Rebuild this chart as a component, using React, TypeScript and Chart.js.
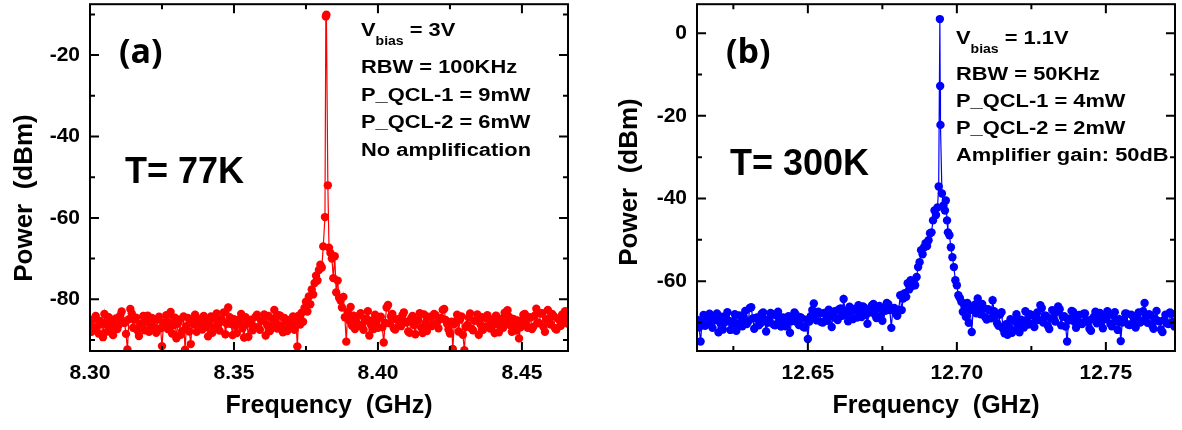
import { useEffect, useRef } from 'react';
import { Chart, registerables } from 'chart.js';

Chart.register(...registerables);

const FONT = "'Liberation Sans', Arial, Helvetica, sans-serif";

// ---------- Panel (a): T = 77K ----------
const freqA = [
  8.3000, 8.3005, 8.3010, 8.3015, 8.3020, 8.3025, 8.3030, 8.3035, 8.3040, 8.3045,
  8.3050, 8.3055, 8.3060, 8.3065, 8.3070, 8.3075, 8.3080, 8.3085, 8.3090, 8.3095,
  8.3100, 8.3105, 8.3110, 8.3115, 8.3120, 8.3125, 8.3130, 8.3135, 8.3140, 8.3145,
  8.3150, 8.3155, 8.3160, 8.3165, 8.3170, 8.3175, 8.3180, 8.3185, 8.3190, 8.3195,
  8.3200, 8.3205, 8.3210, 8.3215, 8.3220, 8.3225, 8.3230, 8.3235, 8.3240, 8.3245,
  8.3250, 8.3255, 8.3260, 8.3265, 8.3270, 8.3275, 8.3280, 8.3285, 8.3290, 8.3295,
  8.3300, 8.3305, 8.3310, 8.3315, 8.3320, 8.3325, 8.3330, 8.3335, 8.3340, 8.3345,
  8.3350, 8.3355, 8.3360, 8.3365, 8.3370, 8.3375, 8.3380, 8.3385, 8.3390, 8.3395,
  8.3400, 8.3405, 8.3410, 8.3415, 8.3420, 8.3425, 8.3430, 8.3435, 8.3440, 8.3445,
  8.3450, 8.3455, 8.3460, 8.3465, 8.3470, 8.3475, 8.3480, 8.3485, 8.3490, 8.3495,
  8.3500, 8.3505, 8.3510, 8.3515, 8.3520, 8.3525, 8.3530, 8.3535, 8.3540, 8.3545,
  8.3550, 8.3555, 8.3560, 8.3565, 8.3570, 8.3575, 8.3580, 8.3585, 8.3590, 8.3595,
  8.3600, 8.3605, 8.3610, 8.3615, 8.3620, 8.3625, 8.3630, 8.3635, 8.3640, 8.3645,
  8.3650, 8.3655, 8.3660, 8.3665, 8.3670, 8.3675, 8.3680, 8.3685, 8.3690,
  8.3695, 8.3700, 8.3705, 8.3710, 8.3715, 8.3720, 8.3725, 8.3730, 8.3735, 8.3740,
  8.3745, 8.3750, 8.3755, 8.3760, 8.3765, 8.3770, 8.3775, 8.3780, 8.3785, 8.3790,
  8.3795, 8.3800, 8.3805, 8.3810, 8.3816, 8.3819, 8.3821, 8.3826, 8.3830, 8.3835,
  8.3840, 8.3845, 8.3850, 8.3855, 8.3860, 8.3865, 8.3870, 8.3875, 8.3880, 8.3885,
  8.3890, 8.3895, 8.3900, 8.3905, 8.3910, 8.3915, 8.3920, 8.3925,
  8.3930, 8.3935, 8.3940, 8.3945, 8.3950, 8.3955, 8.3960, 8.3965, 8.3970, 8.3975,
  8.3980, 8.3985, 8.3990, 8.3995, 8.4000, 8.4005, 8.4010, 8.4015, 8.4020, 8.4025,
  8.4030, 8.4035, 8.4040, 8.4045, 8.4050, 8.4055, 8.4060, 8.4065, 8.4070, 8.4075,
  8.4080, 8.4085, 8.4090, 8.4095, 8.4100, 8.4105, 8.4110, 8.4115, 8.4120, 8.4125,
  8.4130, 8.4135, 8.4140, 8.4145, 8.4150, 8.4155, 8.4160, 8.4165, 8.4170, 8.4175,
  8.4180, 8.4185, 8.4190, 8.4195, 8.4200, 8.4205, 8.4210, 8.4215, 8.4220, 8.4225,
  8.4230, 8.4235, 8.4240, 8.4245, 8.4250, 8.4255, 8.4260, 8.4265, 8.4270, 8.4275,
  8.4280, 8.4285, 8.4290, 8.4295, 8.4300, 8.4305, 8.4310, 8.4315, 8.4320, 8.4325,
  8.4330, 8.4335, 8.4340, 8.4345, 8.4350, 8.4355, 8.4360, 8.4365, 8.4370, 8.4375,
  8.4380, 8.4385, 8.4390, 8.4395, 8.4400, 8.4405, 8.4410, 8.4415, 8.4420, 8.4425,
  8.4430, 8.4435, 8.4440, 8.4445, 8.4450, 8.4455, 8.4460, 8.4465, 8.4470, 8.4475,
  8.4480, 8.4485, 8.4490, 8.4495, 8.4500, 8.4505, 8.4510, 8.4515, 8.4520, 8.4525,
  8.4530, 8.4535, 8.4540, 8.4545, 8.4550, 8.4555, 8.4560, 8.4565, 8.4570, 8.4575,
  8.4580, 8.4585, 8.4590, 8.4595, 8.4600, 8.4605, 8.4610, 8.4615, 8.4620, 8.4625,
  8.4630, 8.4635, 8.4640, 8.4645, 8.4650, 8.4655, 8.4660,
];
const powerA = [
  -85.5, -88.0, -87.2, -84.8, -84.1, -86.7, -88.4, -85.3, -86.0, -89.3,
  -83.6, -86.1, -87.9, -84.4, -85.2, -87.0, -88.8, -85.6, -84.7, -87.3,
  -86.3, -84.0, -83.0, -85.4, -85.8, -88.5, -92.3, -84.9, -82.4, -83.5,
  -87.0, -85.0, -84.5, -87.7, -89.0, -86.2, -85.9, -84.1, -87.6, -85.5,
  -84.0, -88.0, -86.8, -84.6, -85.1, -86.9, -88.2, -85.0, -84.3, -87.1,
  -91.5, -86.4, -85.6, -83.9, -87.3, -85.8, -83.1, -88.4, -86.4, -84.5,
  -89.6, -86.0, -85.0, -88.7, -87.8, -84.2, -92.4, -86.6, -84.6, -87.9,
  -91.0, -85.2, -86.2, -83.8, -88.0, -85.9, -84.8, -87.0, -87.4, -84.1,
  -85.3, -86.8, -89.1, -85.7, -84.2, -88.2, -86.9, -84.7, -83.5, -86.3,
  -87.7, -84.9, -85.4, -83.2, -88.6, -86.0, -82.0, -84.4, -86.1, -88.8,
  -84.9, -86.5, -88.3, -85.1, -85.7, -83.6, -87.1, -89.4, -84.4, -86.0,
  -89.2, -85.5, -85.0, -87.6, -86.7, -84.3, -83.8, -86.9, -87.5, -85.2,
  -85.2, -83.7, -88.9, -86.3, -84.1, -87.8, -86.6, -84.8, -82.6, -85.4,
  -87.2, -83.9, -84.0, -86.5, -88.1, -84.6, -85.3, -87.8, -87.0,
  -85.0, -86.4, -84.2, -87.5, -85.1, -91.6, -84.0, -86.2, -83.3, -85.5,
  -82.1, -80.6, -83.0, -79.3, -81.2, -77.6, -78.8, -76.0, -74.2, -75.4,
  -72.8, -71.5, -72.2, -67.0, -59.8, -10.5, -10.1, -52.0, -67.3, -68.6,
  -70.0, -74.8, -69.4, -78.3, -75.4, -79.6, -80.3, -82.0, -79.4, -84.4,
  -90.4, -83.1, -85.2, -81.9, -86.5, -84.0, -87.3, -85.6,
  -86.1, -84.0, -83.4, -86.8, -87.5, -85.3, -84.7, -82.9, -88.9, -86.2,
  -85.2, -87.3, -83.8, -85.6, -87.0, -84.5, -84.3, -86.9, -90.6, -85.8,
  -82.0, -81.4, -85.9, -84.2, -83.6, -87.1, -87.4, -85.0, -84.9, -86.4,
  -86.6, -83.9, -83.2, -85.5, -85.7, -87.9, -88.2, -84.7, -84.1, -86.3,
  -88.6, -85.2, -85.0, -83.4, -86.9, -88.3, -83.7, -85.9, -87.8, -84.3,
  -84.5, -86.6, -86.2, -83.6, -83.9, -85.7, -87.1, -84.9, -84.6, -82.6,
  -82.4, -85.1, -86.0, -87.4, -88.4, -85.5, -92.2, -86.1, -85.4, -83.8,
  -87.9, -85.0, -84.2, -88.7, -92.5, -86.8, -86.3, -84.5, -83.5, -87.2,
  -87.6, -85.3, -85.1, -83.7, -88.7, -86.0, -84.4, -87.5, -86.8, -84.6,
  -83.9, -86.4, -87.2, -85.0, -85.5, -88.3, -84.0, -86.2, -88.1, -84.8,
  -85.8, -87.0, -83.3, -85.6, -82.7, -84.3, -86.4, -88.0, -84.8, -86.6,
  -87.7, -85.2, -89.6, -86.9, -85.3, -83.8, -83.6, -86.1, -87.0, -84.4,
  -84.5, -87.3, -86.7, -84.0, -82.3, -85.7, -85.9, -83.5, -83.4, -86.8,
  -88.0, -84.9, -82.6, -85.4, -86.2, -83.6, -84.1, -87.1, -87.4, -84.7,
  -85.0, -86.5, -83.7, -85.8, -82.9, -84.4, -86.0,
];
const xTicksA = [8.30, 8.35, 8.40, 8.45];
const xMinorA = [8.325, 8.375, 8.425];
const yTicksA = [-20, -40, -60, -80];
const yMinorA = [-10, -30, -50, -70, -90];

// ---------- Panel (b): T = 300K ----------
const freqB = [
  12.6130, 12.6135, 12.6140, 12.6145, 12.6150, 12.6155, 12.6160, 12.6165, 12.6170, 12.6175,
  12.6180, 12.6185, 12.6190, 12.6195, 12.6200, 12.6205, 12.6210, 12.6215, 12.6220, 12.6225,
  12.6230, 12.6235, 12.6240, 12.6245, 12.6250, 12.6255, 12.6260, 12.6265, 12.6270, 12.6275,
  12.6280, 12.6285, 12.6290, 12.6295, 12.6300, 12.6305, 12.6310, 12.6315, 12.6320, 12.6325,
  12.6330, 12.6335, 12.6340, 12.6345, 12.6350, 12.6355, 12.6360, 12.6365, 12.6370, 12.6375,
  12.6380, 12.6385, 12.6390, 12.6395, 12.6400, 12.6405, 12.6410, 12.6415, 12.6420, 12.6425,
  12.6430, 12.6435, 12.6440, 12.6445, 12.6450, 12.6455, 12.6460, 12.6465, 12.6470, 12.6475,
  12.6480, 12.6485, 12.6490, 12.6495, 12.6500, 12.6505, 12.6510, 12.6515, 12.6520, 12.6525,
  12.6530, 12.6535, 12.6540, 12.6545, 12.6550, 12.6555, 12.6560, 12.6565, 12.6570, 12.6575,
  12.6580, 12.6585, 12.6590, 12.6595, 12.6600, 12.6605, 12.6610, 12.6615, 12.6620, 12.6625,
  12.6630, 12.6635, 12.6640, 12.6645, 12.6650, 12.6655, 12.6660, 12.6665, 12.6670, 12.6675,
  12.6680, 12.6685, 12.6690, 12.6695, 12.6700, 12.6705, 12.6710, 12.6715, 12.6720, 12.6725,
  12.6730, 12.6735, 12.6740, 12.6745, 12.6750, 12.6755, 12.6760, 12.6765, 12.6770, 12.6775,
  12.6780, 12.6785, 12.6790, 12.6795,
  12.6800, 12.6805, 12.6810, 12.6815, 12.6820, 12.6825, 12.6830, 12.6835, 12.6840, 12.6845,
  12.6850, 12.6855, 12.6860, 12.6865, 12.6870, 12.6875, 12.6880, 12.6885, 12.6890, 12.6895,
  12.6900, 12.6905, 12.6910, 12.6915, 12.6920, 12.6925, 12.6930, 12.6935, 12.6939, 12.6943,
  12.6944, 12.6945, 12.6950, 12.6955, 12.6960, 12.6963, 12.6967, 12.6970, 12.6975, 12.6980,
  12.6985, 12.6990, 12.6995, 12.7000, 12.7005, 12.7010, 12.7015, 12.7020, 12.7025, 12.7030,
  12.7035, 12.7040, 12.7045, 12.7050, 12.7055,
  12.7060, 12.7065, 12.7070, 12.7075, 12.7080, 12.7085, 12.7090, 12.7095, 12.7100, 12.7105,
  12.7110, 12.7115, 12.7120, 12.7125, 12.7130, 12.7135, 12.7140, 12.7145, 12.7150, 12.7155,
  12.7160, 12.7165, 12.7170, 12.7175, 12.7180, 12.7185, 12.7190, 12.7195, 12.7200, 12.7205,
  12.7210, 12.7215, 12.7220, 12.7225, 12.7230, 12.7235, 12.7240, 12.7245, 12.7250, 12.7255,
  12.7260, 12.7265, 12.7270, 12.7275, 12.7280, 12.7285, 12.7290, 12.7295, 12.7300, 12.7305,
  12.7310, 12.7315, 12.7320, 12.7325, 12.7330, 12.7335, 12.7340, 12.7345, 12.7350, 12.7355,
  12.7360, 12.7365, 12.7370, 12.7375, 12.7380, 12.7385, 12.7390, 12.7395, 12.7400, 12.7405,
  12.7410, 12.7415, 12.7420, 12.7425, 12.7430, 12.7435, 12.7440, 12.7445, 12.7450, 12.7455,
  12.7460, 12.7465, 12.7470, 12.7475, 12.7480, 12.7485, 12.7490, 12.7495, 12.7500, 12.7505,
  12.7510, 12.7515, 12.7520, 12.7525, 12.7530, 12.7535, 12.7540, 12.7545, 12.7550, 12.7555,
  12.7560, 12.7565, 12.7570, 12.7575, 12.7580, 12.7585, 12.7590, 12.7595, 12.7600, 12.7605,
  12.7610, 12.7615, 12.7620, 12.7625, 12.7630, 12.7635, 12.7640, 12.7645, 12.7650, 12.7655,
  12.7660, 12.7665, 12.7670, 12.7675, 12.7680, 12.7685, 12.7690, 12.7695, 12.7700, 12.7705,
  12.7710, 12.7715, 12.7720, 12.7725, 12.7730,
];
const powerB = [
  -69.4, -71.2, -74.6, -69.9, -68.2, -70.8, -70.5, -68.6, -67.9, -70.2,
  -71.3, -69.5, -69.0, -67.8, -72.4, -70.0, -68.6, -71.7, -70.1, -68.4,
  -67.5, -69.6, -71.8, -70.3, -69.7, -68.0, -72.0, -70.6, -68.3, -69.9,
  -70.9, -68.7, -67.2, -70.4, -69.8, -66.5, -66.3, -69.0, -71.5, -68.9,
  -68.8, -70.7, -70.3, -67.9, -67.6, -69.4, -72.2, -70.1, -69.1, -67.7,
  -68.0, -70.5, -70.7, -68.3, -67.4, -69.6, -71.0, -68.8, -68.9, -70.9,
  -70.2, -68.5, -72.5, -69.7, -69.3, -67.6, -68.1, -70.0, -70.6, -68.7,
  -69.0, -71.1, -71.2, -69.3, -74.0, -69.8, -68.4, -67.0, -65.4, -68.3,
  -69.5, -67.4, -67.8, -69.9, -70.0, -67.7, -68.2, -69.6, -66.9, -68.5,
  -71.1, -67.9, -67.3, -69.0, -69.4, -66.8, -66.6, -68.4, -64.3, -67.2,
  -68.0, -69.7, -66.2, -67.5, -69.2, -66.7, -67.0, -68.8, -65.8, -67.4,
  -68.7, -66.1, -66.4, -68.2, -70.3, -67.6, -67.1, -65.9, -65.5, -68.1,
  -68.9, -66.6, -66.0, -68.4, -69.6, -66.8, -67.2, -65.3, -65.6, -67.0,
  -71.3, -66.9, -66.5, -67.8,
  -68.4, -66.9, -63.4, -67.0, -64.2, -62.9, -63.8, -60.5, -62.0, -59.8,
  -61.2, -60.0, -61.0, -59.0, -56.6, -55.4, -52.5, -53.5, -51.8, -50.8,
  -51.5, -50.1, -48.4, -48.2, -45.3, -42.9, -44.0, -42.2, -37.1, 3.4,
  -12.8, -22.2, -38.8, -41.7, -42.9, -40.5, -45.3, -48.2, -48.9, -51.8,
  -54.2, -56.6, -59.8, -61.0, -63.4, -64.1, -65.0, -67.4, -66.0, -68.6,
  -65.3, -70.1, -67.0, -72.3, -66.4,
  -65.7, -67.8, -64.2, -66.9, -68.0, -65.5, -66.5, -68.7, -69.3, -66.8,
  -67.1, -69.0, -64.6, -67.3, -68.4, -70.2, -70.8, -68.1, -67.5, -71.6,
  -72.6, -70.4, -73.0, -71.1, -69.2, -72.5, -71.9, -69.8, -68.0, -70.6,
  -72.4, -69.3, -69.6, -71.2, -67.3, -69.5, -70.5, -68.0, -68.2, -70.3,
  -71.1, -68.8, -67.6, -69.4, -65.8, -66.5, -70.0, -68.3, -68.4, -70.8,
  -71.6, -69.0, -67.0, -68.9, -69.8, -67.5, -66.1, -66.8, -70.7, -68.6,
  -68.5, -71.0, -74.6, -69.5, -69.0, -67.2, -67.4, -69.9, -71.3, -68.7,
  -68.2, -70.1, -70.4, -67.9, -67.8, -69.4, -69.9, -71.5, -72.0, -69.1,
  -68.6, -67.4, -70.2, -68.5, -67.7, -70.0, -71.4, -68.8, -69.1, -67.3,
  -68.0, -70.3, -70.9, -68.4, -67.5, -69.7, -71.8, -69.2, -74.5, -70.0,
  -69.3, -67.8, -67.9, -70.5, -70.6, -68.1, -68.4, -69.9, -71.2, -68.6,
  -67.6, -70.0, -69.7, -67.3, -65.3, -68.5, -70.1, -68.0, -68.3, -70.7,
  -71.5, -69.1, -67.2, -69.6, -69.8, -71.7, -72.3, -69.4, -68.1, -70.2,
  -70.4, -67.6, -67.9, -69.8, -71.0,
];
const xTicksB = [12.65, 12.70, 12.75];
const xMinorB = [12.625, 12.675, 12.725];
const yTicksB = [0, -20, -40, -60];
const yMinorB = [-10, -30, -50, -70];

const xTitle = 'Frequency  (GHz)';
const yTitle = 'Power  (dBm)';

type Panel = {
  id: string;
  left: number;
  w: number;
  freq: number[];
  power: number[];
  color: string;
  xMin: number; xMax: number; yMin: number; yMax: number;
  xTicks: number[]; xMinor: number[]; yTicks: number[]; yMinor: number[];
  yAxisWidth: number; padRight: number;
  yTitleX: number; yTitleY: number;
  tag: string; tagX: number; tagY: number;
  temp: string; tempX: number; tempY: number;
  noteX: number; vY: number; vText: string; lines: string[]; lineYs: number[];
};

const panels: Panel[] = [
  {
    id: 'a', left: 0, w: 590, freq: freqA, power: powerA, color: '#ff0000',
    xMin: 8.30, xMax: 8.466, yMin: -92.7, yMax: -7.5,
    xTicks: xTicksA, xMinor: xMinorA, yTicks: yTicksA, yMinor: yMinorA,
    yAxisWidth: 90, padRight: 22, yTitleX: 24.5, yTitleY: 198,
    tag: '(a)', tagX: 119, tagY: 63,
    temp: 'T= 77K', tempX: 125, tempY: 183,
    noteX: 361, vY: 36, vText: ' = 3V',
    lines: ['RBW = 100KHz', 'P_QCL-1 = 9mW', 'P_QCL-2 = 6mW', 'No amplification'],
    lineYs: [73, 100.5, 128, 155.5],
  },
  {
    id: 'b', left: 590, w: 592, freq: freqB, power: powerB, color: '#0000ff',
    xMin: 12.6128, xMax: 12.7732, yMin: -76.9, yMax: 7,
    xTicks: xTicksB, xMinor: xMinorB, yTicks: yTicksB, yMinor: yMinorB,
    yAxisWidth: 107, padRight: 7, yTitleX: 40, yTitleY: 182,
    tag: '(b)', tagX: 136, tagY: 63,
    temp: 'T= 300K', tempX: 140, tempY: 175,
    noteX: 366, vY: 44, vText: ' = 1.1V',
    lines: ['RBW = 50KHz', 'P_QCL-1 = 4mW', 'P_QCL-2 = 2mW', 'Amplifier gain: 50dB'],
    lineYs: [80, 107, 134, 161],
  },
];

const NOTE_SX = 1.17;

function makeDecor(p: Panel) {
  return {
    id: 'decor_' + p.id,
    afterDatasetsDraw(chart: any) {
      const { ctx, chartArea: a } = chart;
      const xs = chart.scales.x;
      const ys = chart.scales.y;
      ctx.save();
      ctx.strokeStyle = '#000';
      ctx.lineWidth = 2;
      ctx.beginPath();
      const vTick = (v: number, len: number) => {
        const px = xs.getPixelForValue(v);
        ctx.moveTo(px, a.bottom); ctx.lineTo(px, a.bottom - len);
        ctx.moveTo(px, a.top); ctx.lineTo(px, a.top + len);
      };
      const hTick = (v: number, len: number) => {
        const py = ys.getPixelForValue(v);
        ctx.moveTo(a.left, py); ctx.lineTo(a.left + len, py);
        ctx.moveTo(a.right, py); ctx.lineTo(a.right - len, py);
      };
      p.xTicks.forEach((v) => vTick(v, 9));
      p.xMinor.forEach((v) => vTick(v, 5));
      p.yTicks.forEach((v) => hTick(v, 9));
      p.yMinor.forEach((v) => hTick(v, 5));
      ctx.stroke();
      ctx.strokeRect(a.left, a.top, a.right - a.left, a.bottom - a.top);

      ctx.fillStyle = '#000';
      // y title
      ctx.save();
      ctx.translate(p.yTitleX, p.yTitleY);
      ctx.rotate(-Math.PI / 2);
      ctx.font = `bold 26px ${FONT}`;
      ctx.textAlign = 'center';
      ctx.textBaseline = 'middle';
      ctx.fillText(yTitle, 0, 0);
      ctx.restore();

      ctx.textAlign = 'left';
      ctx.textBaseline = 'alphabetic';
      // panel tag
      ctx.font = `bold 34px 'Open Sans', Lato, sans-serif`;
      ctx.fillText(p.tag, p.tagX, p.tagY);
      // temperature
      ctx.font = `bold 36px ${FONT}`;
      ctx.fillText(p.temp, p.tempX, p.tempY);

      // notes (horizontally widened)
      const drawScaled = (text: string, x: number, y: number, size: number) => {
        ctx.save();
        ctx.font = `bold ${size}px ${FONT}`;
        ctx.translate(x, y);
        ctx.scale(NOTE_SX, 1);
        ctx.fillText(text, 0, 0);
        const w = ctx.measureText(text).width * NOTE_SX;
        ctx.restore();
        return w;
      };
      let x = p.noteX;
      x += drawScaled('V', x, p.vY, 18.7);
      x += drawScaled('bias', x, p.vY + 9, 12);
      drawScaled(p.vText, x, p.vY, 18.7);
      p.lines.forEach((t, i) => drawScaled(t, p.noteX, p.lineYs[i], 18.7));
      ctx.restore();
    },
  };
}

function PanelChart({ p }: { p: Panel }) {
  const ref = useRef<HTMLCanvasElement>(null);
  useEffect(() => {
    const n = Math.min(p.freq.length, p.power.length);
    const pts = p.freq.slice(0, n).map((f, i) => ({ x: f, y: p.power[i] }));
    const chart = new Chart(ref.current as HTMLCanvasElement, {
      type: 'scatter',
      data: {
        datasets: [
          {
            data: pts,
            showLine: true,
            borderColor: p.color,
            borderWidth: 1.2,
            backgroundColor: p.color,
            pointBackgroundColor: p.color,
            pointBorderColor: p.color,
            pointBorderWidth: 0,
            pointRadius: 4.2,
            clip: 0,
          } as any,
        ],
      },
      options: {
        responsive: false,
        animation: false,
        devicePixelRatio: 1,
        layout: { padding: { left: 0, right: p.padRight, top: 3, bottom: 0 } },
        plugins: { legend: { display: false }, tooltip: { enabled: false } },
        scales: {
          x: {
            type: 'linear',
            min: p.xMin,
            max: p.xMax,
            grid: { display: false, drawTicks: false },
            border: { display: false },
            ticks: {
              includeBounds: false,
              autoSkip: false,
              padding: 10,
              color: '#000',
              font: { family: FONT, size: 21, weight: 'bold' },
              callback: (v: any) => Number(v).toFixed(2),
            },
            afterBuildTicks: (s: any) => {
              s.ticks = p.xTicks.map((v) => ({ value: v }));
            },
            afterFit: (s: any) => {
              s.height = 79;
              s.paddingLeft = 0;
              s.paddingRight = 0;
            },
            title: {
              display: true,
              text: xTitle,
              color: '#000',
              font: { family: FONT, size: 25, weight: 'bold' },
              padding: { top: 0, bottom: 9 },
            },
          },
          y: {
            type: 'linear',
            min: p.yMin,
            max: p.yMax,
            grid: { display: false, drawTicks: false },
            border: { display: false },
            ticks: {
              autoSkip: false,
              padding: 10,
              color: '#000',
              font: { family: FONT, size: 21, weight: 'bold' },
              callback: (v: any) => String(Math.round(Number(v))),
            },
            afterBuildTicks: (s: any) => {
              s.ticks = p.yTicks.map((v) => ({ value: v }));
            },
            afterFit: (s: any) => {
              s.width = p.yAxisWidth;
              s.paddingTop = 0;
              s.paddingBottom = 0;
            },
          },
        },
      } as any,
      plugins: [makeDecor(p)],
    });
    return () => chart.destroy();
  }, [p]);
  return (
    <canvas
      ref={ref}
      width={p.w}
      height={430}
      style={{ position: 'absolute', left: p.left, top: 0, width: p.w, height: 430 }}
    />
  );
}

export default function App() {
  return (
    <div style={{ position: 'absolute', left: 0, top: 0, width: 1182, height: 430, background: '#fff' }}>
      {panels.map((p) => (
        <PanelChart key={p.id} p={p} />
      ))}
    </div>
  );
}
